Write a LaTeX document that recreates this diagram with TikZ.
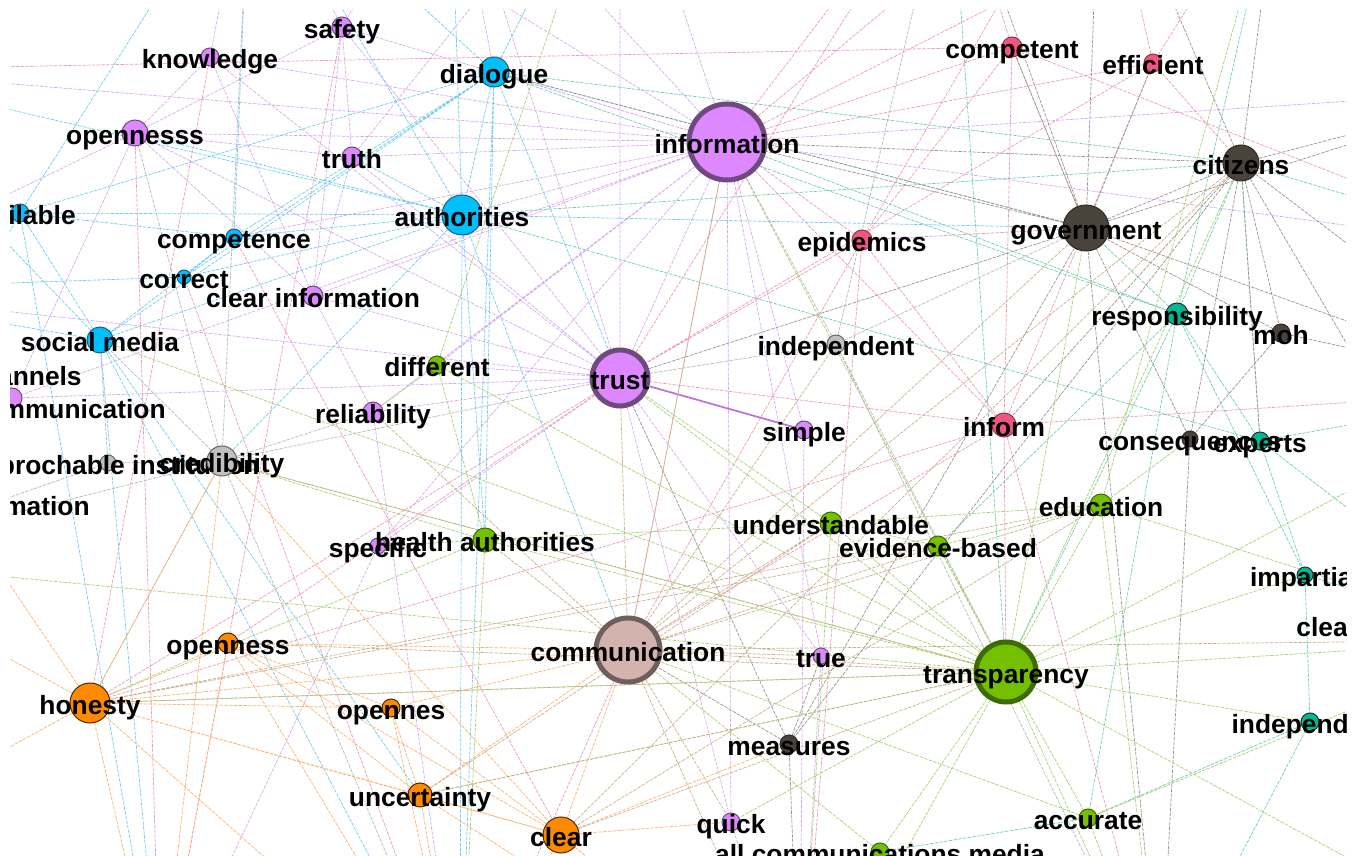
\documentclass[tikz,border=0pt]{standalone}
\usepackage{fontspec}
\newfontfamily\lblfont{Liberation Sans}
\usetikzlibrary{backgrounds}
%
\definecolor{cpur}{HTML}{DD88FF}
\definecolor{cpurd}{HTML}{6E4A7E}
\definecolor{cblu}{HTML}{00BFFF}
\definecolor{cblud}{HTML}{1F5F7A}
\definecolor{cred}{HTML}{F2557F}
\definecolor{credd}{HTML}{8A3A4A}
\definecolor{cdrk}{HTML}{4A433C}
\definecolor{cdrkd}{HTML}{2E2A26}
\definecolor{ctea}{HTML}{00B894}
\definecolor{cgrn}{HTML}{74C000}
\definecolor{cgrnd}{HTML}{3D6B00}
\definecolor{cgry}{HTML}{C0C0C0}
\definecolor{corg}{HTML}{FF8A00}
\definecolor{ccom}{HTML}{D4B3AE}
\definecolor{ccomd}{HTML}{6E5E5E}
%
\definecolor{epur}{HTML}{DAA8F2}
\definecolor{ered}{HTML}{F29AB4}
\definecolor{eblu}{HTML}{6CCEF2}
\definecolor{edrk}{HTML}{9A9490}
\definecolor{etea}{HTML}{6CCFB6}
\definecolor{egrn}{HTML}{A8D270}
\definecolor{egry}{HTML}{B8B8B8}
\definecolor{eorg}{HTML}{FFB26A}
\definecolor{etan}{HTML}{CDB088}

\begin{document}
\begin{tikzpicture}
[
 x=0.2mm, y=-0.2mm,
 ND/.style={circle, inner sep=0pt, line width=0.2mm},
 SZ/.style={minimum size=#1*0.4mm},
 BIG/.style={line width=1mm},
 NP/.style={ND, fill=cpur, draw=cpurd},
 NB/.style={ND, fill=cblu, draw=cblud},
 NR/.style={ND, fill=cred, draw=credd},
 NK/.style={ND, fill=cdrk, draw=cdrkd},
 NT/.style={ND, fill=ctea, draw=cdrkd},
 NG/.style={ND, fill=cgrn, draw=cgrnd},
 NY/.style={ND, fill=cgry, draw=black!60},
 NO/.style={ND, fill=corg, draw=black!70!corg},
 NC/.style={ND, fill=ccom, draw=ccomd},
 LB/.style={font=\lblfont\bfseries\fontsize{15}{18}\selectfont, inner sep=0pt, text height=12.6pt, text depth=0pt},
 TX/.style={label={[LB]center:#1}},
 ED/.style={line width=0.4pt, dash pattern=on 2pt off 0.7pt},
 EP/.style={ED, draw=epur},
 ER/.style={ED, draw=ered},
 EB/.style={ED, draw=eblu},
 EK/.style={ED, draw=edrk},
 ET/.style={ED, draw=etea},
 EG/.style={ED, draw=egrn},
 EY/.style={ED, draw=egry},
 EO/.style={ED, draw=eorg},
 EC/.style={ED, draw=etan}
 ]
 %
\useasboundingbox (0,0) rectangle (1361,856);
%
\coordinate (N1) at (250,-150);
\coordinate (N5) at (450,-160);
\coordinate (N2) at (620,-180);
\coordinate (N3) at (950,-150);
\coordinate (N6) at (1100,-170);
\coordinate (N4) at (1280,-140);
\coordinate (E1) at (1520,90);
\coordinate (E5) at (1530,250);
\coordinate (E2) at (1540,390);
\coordinate (E3) at (1520,640);
\coordinate (E4) at (1480,930);
\coordinate (S1) at (160,1010);
\coordinate (S2) at (460,1030);
\coordinate (S3) at (800,1040);
\coordinate (S4) at (1160,1010);
\coordinate (W1) at (-160,70);
\coordinate (W2) at (-190,290);
\coordinate (W3) at (-170,560);
\coordinate (W4) at (-160,840);
%
\begin{scope}
\clip (10,10) rectangle (1346,856);
%
\node [NP, SZ=10, TX=safety]    (SAF) at (342,27)  {};
\node [NP, SZ=9,  TX=knowledge] (KNO) at (210,57)  {};
\node [NP, SZ=13, TX=opennesss] (OPS) at (135,133) {};
\node [NP, SZ=10, TX=truth]     (TRT) at (352,157) {};
\node [NP, SZ=10, TX=clear information] (CLI) at (313,296) {};
\node [NP, SZ=10] (LCO) at (12,398) {};
\node [NP, SZ=10, TX=reliability] (REL) at (373,412) {};
\node [NP, SZ=8,  TX=specific]  (SPE) at (378,546) {};
\node [NP, SZ=9,  TX=simple]    (SIM) at (804,430) {};
\node [NP, SZ=8,  TX=true]      (TRE) at (821,656) {};
\node [NP, SZ=9,  TX=quick]     (QUI) at (731,822) {};
%
\node [NB, SZ=15, TX=dialogue]    (DIA) at (494,72)  {};
\node [NB, SZ=20, TX=authorities] (AUT) at (462,215) {};
\node [NB, SZ=9,  TX=available]   (AVA) at (20,213)  {};
\node [NB, SZ=8,  TX=competence]  (CPE) at (234,237) {};
\node [NB, SZ=7,  TX=correct]     (COR) at (184,277) {};
\node [NB, SZ=13, TX=social media] (SOC) at (100,340) {};
%
\node [NR, SZ=10, TX=competent] (CPT) at (1012,47)  {};
\node [NR, SZ=9,  TX=efficient] (EFF) at (1153,63)  {};
\node [NR, SZ=10, TX=epidemics] (EPI) at (862,240)  {};
\node [NR, SZ=12, TX=inform]    (INM) at (1004,425) {};
%
\node [NK, SZ=18, TX=citizens]   (CIT) at (1241,163) {};
\node [NK, SZ=23, TX=government] (GOV) at (1086,228) {};
\node [NK, SZ=9,  TX=moh]        (MOH) at (1281,333) {};
\node [NK, SZ=8,  TX=consequences] (CON) at (1190,439) {};
\node [NK, SZ=9,  TX=measures]   (MEA) at (789,744)  {};
%
\node [NT, SZ=11, TX=responsibility] (RES) at (1177,314) {};
\node [NT, SZ=9,  TX=experts]     (EXP) at (1260,441) {};
\node [NT, SZ=8,  TX=impartial]   (IMP) at (1305,575) {};
\node [NT, SZ=9,  TX=independant] (IDA) at (1310,722) {};
\node [LB, anchor=west] (CL2) at (1296,625) {clear};
%
\node [NG, SZ=9,  TX=different]      (DIF) at (437,365) {};
\node [NG, SZ=12, TX=health authorities] (HEA) at (485,540) {};
\node [NG, SZ=11, TX=understandable] (UND) at (831,523) {};
\node [NG, SZ=10, TX=evidence-based] (EVI) at (938,546) {};
\node [NG, SZ=11, TX=education]      (EDU) at (1101,505) {};
\node [NG, SZ=9,  TX=accurate]       (ACC) at (1088,818) {};
\node [NG, SZ=9,  TX=all communications media] (ALL) at (880,852) {};
%
\node [NY, SZ=9,  TX=independent] (IND) at (836,344) {};
\node [NY, SZ=8,  TX=irreprochable institution] (IRR) at (108,463) {};
\node [NY, SZ=15, TX=credibility] (CRE) at (222,461) {};
%
\node [NO, SZ=20, TX=honesty]     (HON) at (90,703)  {};
\node [NO, SZ=10, TX=openness]    (OPN) at (228,643) {};
\node [NO, SZ=9,  TX=opennes]     (OPE) at (391,708) {};
\node [NO, SZ=12, TX=uncertainty] (UNC) at (420,795) {};
\node [NO, SZ=18, TX=clear]       (CLR) at (561,835) {};
%
\node [LB, anchor=east] (CHA) at (82,374)  {channels};
\node [LB, anchor=east] (LCT) at (166,407) {communication};
\node [LB, anchor=east] (LIT) at (90,504)  {information};
%
\node [NP, SZ=38, BIG, TX=information]   (INF) at (727,142)  {};
\node [NP, SZ=28, BIG, TX=trust]         (TRU) at (620,378)  {};
\node [NC, SZ=32, BIG, TX=communication] (COM) at (628,650)  {};
\node [NG, SZ=30, BIG, TX=transparency]  (TRA) at (1006,672) {};
\end{scope}
%
\begin{pgfonlayer}{background}
\begin{scope}
\clip (10,10) rectangle (1346,856);
% purple
\draw [EP] (INF) -- (DIA) (INF) -- (AUT) (INF) -- (TRU) (INF) -- (SAF) (INF) -- (KNO)
 (INF) -- (OPS) (INF) -- (TRT) (INF) -- (CLI) (INF) -- (REL) (INF) -- (SIM)
 (INF) -- (QUI) (INF) -- (TRE) (INF) -- (SPE) (INF) -- (DIF) (INF) -- (CPE)
 (INF) -- (LCO) (INF) -- (N1) (INF) -- (N2) (INF) -- (W1) (INF) -- (E1)
 (INF) -- (N5) (INF) -- (E5) (DIA) -- (N5) (TRU) -- (N5) (SAF) -- (N5);
\draw [EP] (TRU) -- (REL) (TRU) -- (CLI) (TRU) -- (DIF) (TRU) -- (SPE) (TRU) -- (OPS)
 (TRU) -- (TRT) (TRU) -- (KNO) (TRU) -- (TRE) (TRU) -- (QUI) (TRU) -- (LCO)
 (TRU) -- (W2) (TRU) -- (SAF) (TRU) -- (N2);
\draw [EP] (OPS) -- (KNO) (OPS) -- (SAF) (OPS) -- (TRT) (OPS) -- (W2) (OPS) -- (CLI)
 (SAF) -- (TRT) (SAF) -- (N1) (SAF) -- (CLI) (KNO) -- (CLI) (KNO) -- (N1)
 (TRT) -- (CLI) (TRT) -- (N2) (TRE) -- (S3) (SIM) -- (S3) (REL) -- (S2)
 (LCO) -- (W2) (LCO) -- (OPS) (QUI) -- (S3) (SPE) -- (S1) (REL) -- (CLI);
\draw [EP, solid, line width=1pt, draw=cpur!85!black] (TRU) -- (SIM);
% red
\draw [ER] (INF) -- (EPI) (INF) -- (CPT) (INF) -- (EFF) (INF) -- (INM) (INF) -- (COM)
 (INF) -- (N3) (INF) -- (N4) (EPI) -- (CPT) (EPI) -- (GOV) (EPI) -- (INM)
 (EPI) -- (TRU) (EPI) -- (COM) (EPI) -- (S3) (CPT) -- (GOV) (CPT) -- (INM)
 (CPT) -- (N3) (CPT) -- (W1) (EFF) -- (CIT) (EFF) -- (INM) (EFF) -- (N4)
 (EFF) -- (TRU) (INM) -- (COM) (INM) -- (TRU) (INM) -- (TRA) (INM) -- (S4)
 (INM) -- (HON) (INM) -- (E2) (TRU) -- (N3) (COM) -- (S2) (KNO) -- (HON)
 (SAF) -- (S1) (COR) -- (S2) (CPE) -- (CLR) (OPS) -- (S1) (TRU) -- (HON) (TRU) -- (OPN)
 (INF) -- (N6) (EPI) -- (N6) (EFF) -- (N6) (CPT) -- (E5);
% blue
\draw [EB] (DIA) -- (AUT) (DIA) -- (CPE) (DIA) -- (COR) (DIA) -- (AVA) (DIA) -- (SOC)
 (DIA) -- (N1) (DIA) -- (N2) (DIA) -- (HEA) (DIA) -- (TRU) (DIA) -- (GOV)
 (AUT) -- (CPE) (AUT) -- (COR) (AUT) -- (AVA) (AUT) -- (SOC) (AUT) -- (TRT)
 (AUT) -- (HEA) (AUT) -- (GOV) (AUT) -- (N1) (AUT) -- (W1) (AUT) -- (CRE)
 (AUT) -- (COM) (AUT) -- (OPS) (AUT) -- (S2) (SOC) -- (AVA) (SOC) -- (CPE)
 (SOC) -- (W2) (SOC) -- (S1) (SOC) -- (W1) (SOC) -- (UNC) (AVA) -- (N1)
 (AVA) -- (S1) (AVA) -- (CPE) (AVA) -- (W3) (CPE) -- (COR) (COR) -- (W2)
 (CPE) -- (N1) (SOC) -- (S2) (DIA) -- (S2) (AUT) -- (N5);
% teal
\draw [ET] (RES) -- (GOV) (RES) -- (CIT) (RES) -- (EXP) (RES) -- (IMP) (RES) -- (TRA)
 (RES) -- (N4) (RES) -- (EVI) (RES) -- (ACC) (EXP) -- (IMP) (EXP) -- (CIT)
 (EXP) -- (E2) (EXP) -- (E3) (IMP) -- (IDA) (IMP) -- (E3) (IDA) -- (ACC)
 (IDA) -- (S4) (DIA) -- (CIT) (AUT) -- (EXP) (INF) -- (RES) (AUT) -- (CIT)
 (DIA) -- (RES) (ACC) -- (ALL) (TRA) -- (N3) (CIT) -- (E5);
% dark
\draw [EK] (GOV) -- (CIT) (GOV) -- (MOH) (GOV) -- (CON) (GOV) -- (MEA) (GOV) -- (INF)
 (GOV) -- (TRU) (GOV) -- (EFF) (GOV) -- (CPT) (GOV) -- (E1) (GOV) -- (E2)
 (GOV) -- (S4) (GOV) -- (N3) (CIT) -- (MOH) (CIT) -- (CON) (CIT) -- (EXP)
 (CIT) -- (E1) (CIT) -- (E2) (CIT) -- (N4) (CIT) -- (E3) (CIT) -- (INF)
 (CIT) -- (MEA) (CIT) -- (INM) (MOH) -- (CON) (MOH) -- (E2) (MEA) -- (TRE)
 (MEA) -- (COM) (MEA) -- (TRU) (MEA) -- (S3) (CON) -- (S4) (GOV) -- (DIA)
 (GOV) -- (N6) (CIT) -- (N6);
% green
\draw [EG] (TRA) -- (ACC) (TRA) -- (IDA) (TRA) -- (IMP) (TRA) -- (EDU) (TRA) -- (EVI)
 (TRA) -- (UND) (TRA) -- (ALL) (TRA) -- (HEA) (TRA) -- (DIF) (TRA) -- (HON)
 (TRA) -- (UNC) (TRA) -- (E3) (TRA) -- (E4) (TRA) -- (S4) (TRA) -- (S3)
 (TRA) -- (E2) (TRA) -- (CRE) (TRA) -- (GOV) (TRA) -- (CIT) (TRA) -- (TRU)
 (TRA) -- (INF) (EDU) -- (UND) (EDU) -- (EVI) (EDU) -- (E3) (EDU) -- (S4)
 (EDU) -- (CON) (UND) -- (EVI) (UND) -- (TRU) (UND) -- (HEA) (UND) -- (S3)
 (HEA) -- (DIF) (HEA) -- (CRE) (HEA) -- (SPE) (HEA) -- (S2) (HEA) -- (HON)
 (DIF) -- (REL) (DIF) -- (N2) (ACC) -- (S4) (ACC) -- (COM) (ALL) -- (COM)
 (TRA) -- (SOC) (EDU) -- (N4) (TRA) -- (QUI) (TRA) -- (W3) (ACC) -- (E3);
% gray
\draw [EY] (IND) -- (INF) (IND) -- (TRA) (IND) -- (S4) (IND) -- (TRU) (IND) -- (GOV)
 (CRE) -- (IRR) (CRE) -- (SOC) (CRE) -- (REL) (CRE) -- (HON) (CRE) -- (OPS)
 (CRE) -- (S2) (CRE) -- (W3) (CRE) -- (TRU) (IRR) -- (W3) (IRR) -- (SOC)
 (CRE) -- (N1) (IND) -- (N3);
% orange
\draw [EO] (HON) -- (OPN) (HON) -- (OPE) (HON) -- (UNC) (HON) -- (CLR) (HON) -- (COM)
 (HON) -- (W3) (HON) -- (W4) (HON) -- (S1) (HON) -- (S2) (HON) -- (CRE)
 (OPN) -- (OPE) (OPN) -- (UNC) (OPN) -- (CLR) (OPN) -- (COM) (OPN) -- (S1)
 (OPN) -- (S2) (OPE) -- (UNC) (OPE) -- (CLR) (OPE) -- (COM) (OPE) -- (S2)
 (UNC) -- (CLR) (UNC) -- (COM) (UNC) -- (S2) (UNC) -- (S3) (CLR) -- (COM)
 (CLR) -- (S3) (CLR) -- (S2) (CLR) -- (MEA) (CLR) -- (QUI) (HON) -- (W2)
 (CRE) -- (S1) (CRE) -- (CLR);
% tan
\draw [EC] (COM) -- (TRU) (COM) -- (INF) (COM) -- (GOV) (COM) -- (CIT) (COM) -- (EDU)
 (COM) -- (UND) (COM) -- (EVI) (COM) -- (TRA) (COM) -- (E3) (COM) -- (TRE)
 (COM) -- (QUI) (COM) -- (S3) (HON) -- (TRA) (UNC) -- (TRA) (HON) -- (EDU)
 (OPN) -- (TRA) (CLR) -- (TRA) (CLR) -- (EDU) (COM) -- (HEA) (COM) -- (IND)
 (CLR) -- (CIT) (HON) -- (EVI) (UNC) -- (UND) (COM) -- (REL) (CRE) -- (TRA);
\end{scope}
\end{pgfonlayer}
%
\end{tikzpicture}
\end{document}
